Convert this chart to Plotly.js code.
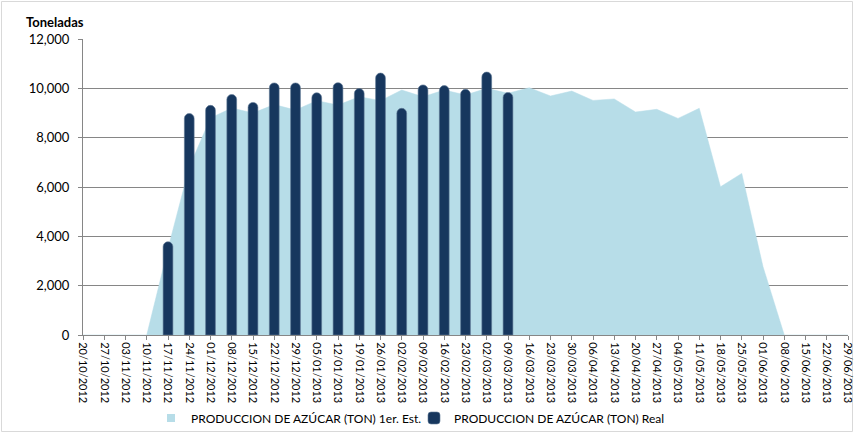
<!DOCTYPE html>
<html>
<head>
<meta charset="utf-8">
<script src="https://cdn.plot.ly/plotly-3.0.1.min.js"></script>
<style>
  html, body { margin: 0; padding: 0; background: #fff; }
  #chart { width: 854px; height: 433px; }
</style>
</head>
<body>
<div id="chart"></div>
<script>
// Weekly categories
const categories = [
  "20/10/2012","27/10/2012","03/11/2012","10/11/2012","17/11/2012","24/11/2012",
  "01/12/2012","08/12/2012","15/12/2012","22/12/2012","29/12/2012","05/01/2013",
  "12/01/2013","19/01/2013","26/01/2013","02/02/2013","09/02/2013","16/02/2013",
  "23/02/2013","02/03/2013","09/03/2013","16/03/2013","23/03/2013","30/03/2013",
  "06/04/2013","13/04/2013","20/04/2013","27/04/2013","04/05/2013","11/05/2013",
  "18/05/2013","25/05/2013","01/06/2013","08/06/2013","15/06/2013","22/06/2013",
  "29/06/2013"
];

// PRODUCCION DE AZÚCAR (TON) 1er. Est. (area)
const estimado = [
  0, 0, 0, 0, 3500, 6800,
  8800, 9200, 9000, 9340, 9120, 9500,
  9320, 9660, 9500, 9930, 9660, 9930,
  9730, 10000, 9800, 10025, 9690, 9890,
  9510, 9570, 9040, 9150, 8780, 9190,
  6010, 6550, 2770, 0, 0, 0,
  0
];

// PRODUCCION DE AZÚCAR (TON) Real (bars)
const realCats = [
  "17/11/2012","24/11/2012","01/12/2012","08/12/2012","15/12/2012","22/12/2012",
  "29/12/2012","05/01/2013","12/01/2013","19/01/2013","26/01/2013","02/02/2013",
  "09/02/2013","16/02/2013","23/02/2013","02/03/2013","09/03/2013"
];
const real = [
  3780, 8980, 9310, 9750, 9430, 10220,
  10220, 9820, 10230, 9990, 10620, 9190,
  10140, 10110, 9960, 10660, 9830
];

const yTicks = [0, 2000, 4000, 6000, 8000, 10000, 12000];
const yTickText = ["0", "2,000", "4,000", "6,000", "8,000", "10,000", "12,000"];

const seriesNames = [
  "PRODUCCION DE AZÚCAR (TON) 1er. Est.",
  "PRODUCCION DE AZÚCAR (TON) Real"
];

const FONT = "Lato, 'Liberation Sans', sans-serif";
const AREA_COLOR = "#b7dde8";
const BAR_COLOR = "#17375e";

const traces = [
  {
    type: "scatter",
    mode: "lines",
    x: categories,
    y: estimado,
    name: seriesNames[0],
    fill: "tozeroy",
    fillcolor: AREA_COLOR,
    line: { color: AREA_COLOR, width: 0.5 },
    showlegend: false,
    hoverinfo: "skip"
  },
  // small square legend swatch for the area series (no visible point)
  {
    type: "scatter",
    mode: "markers",
    x: [null],
    y: [null],
    name: seriesNames[0],
    marker: { symbol: "square", size: 8, color: AREA_COLOR, line: { width: 0 } },
    yaxis: "y2",
    hoverinfo: "skip"
  },
  {
    type: "bar",
    x: realCats,
    y: real,
    name: seriesNames[1],
    width: 0.46,
    yaxis: "y2",
    marker: {
      color: BAR_COLOR,
      cornerradius: 5,
      line: { color: "#5f7896", width: 0.6 }
    },
    hoverinfo: "skip"
  }
];

const W = 854, H = 433, L = 83, R = 6, T = 39, B = 98;
const pw = W - L - R, ph = H - T - B;

const layout = {
  width: W,
  height: H,
  margin: { l: L, r: R, t: T, b: B, pad: 0, autoexpand: false },
  paper_bgcolor: "#ffffff",
  plot_bgcolor: "#ffffff",
  font: { family: FONT, size: 12, color: "#000000" },
  showlegend: true,
  barmode: "overlay",
  legend: {
    orientation: "h",
    x: (151 - L) / pw,
    xanchor: "left",
    y: (T + ph - 418) / ph,
    yanchor: "middle",
    font: { family: FONT, size: 12, color: "#000000" },
    traceorder: "normal",
    entrywidth: 218,
    itemwidth: 30,
    bgcolor: "rgba(0,0,0,0)"
  },
  xaxis: {
    type: "category",
    categoryorder: "array",
    categoryarray: categories,
    range: [0, categories.length - 1],
    tickangle: 90,
    tickfont: { family: FONT, size: 11, color: "#000000" },
    ticks: "outside",
    ticklen: 4,
    tickcolor: "#868686",
    showline: true,
    linecolor: "#868686",
    linewidth: 1,
    showgrid: false,
    zeroline: false,
    fixedrange: true
  },
  yaxis: {
    range: [0, 12000],
    tickvals: yTicks,
    ticktext: yTickText,
    tickfont: { family: FONT, size: 13, color: "#000000" },
    ticks: "outside",
    ticklen: 4,
    ticklabelstandoff: 6,
    tickcolor: "#868686",
    showline: true,
    linecolor: "#868686",
    linewidth: 1,
    showgrid: true,
    gridcolor: "#868686",
    gridwidth: 1,
    zeroline: false,
    fixedrange: true
  },
  yaxis2: {
    range: [0, 12000],
    overlaying: "y",
    visible: false,
    showgrid: false,
    zeroline: false,
    fixedrange: true
  },
  annotations: [
    {
      text: "<b>Toneladas</b>",
      xref: "paper", yref: "paper",
      x: (24 - L) / pw, xanchor: "left",
      y: (T + ph - 22) / ph, yanchor: "middle",
      showarrow: false,
      font: { family: FONT, size: 13, color: "#000000" }
    }
  ],
  shapes: [
    {
      type: "rect",
      xref: "paper", yref: "paper",
      x0: (1.5 - L) / pw, x1: (852.5 - L) / pw,
      y0: (T + ph - 431.5) / ph, y1: (T + ph - 1.5) / ph,
      line: { color: "#d9d9d9", width: 1 },
      fillcolor: "rgba(0,0,0,0)",
      layer: "below"
    }
  ]
};

Plotly.newPlot("chart", traces, layout, { displayModeBar: false, staticPlot: true });
</script>
</body>
</html>
